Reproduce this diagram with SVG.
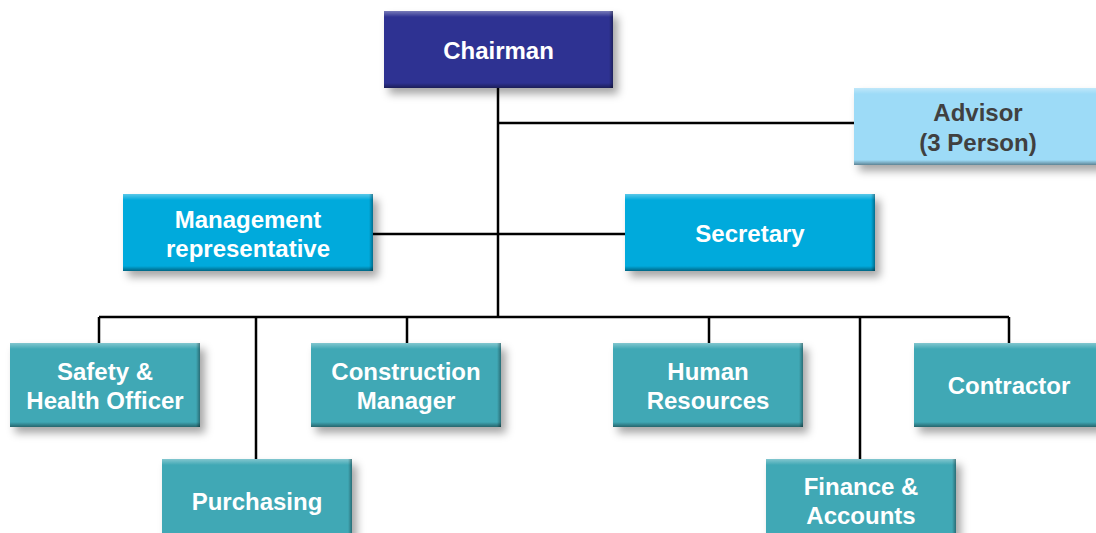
<svg xmlns="http://www.w3.org/2000/svg" width="1096" height="533" viewBox="0 0 1096 533">
<defs>
<filter id="sh" x="-10%" y="-20%" width="130%" height="160%">
<feDropShadow dx="5" dy="6" stdDeviation="4" flood-color="#000" flood-opacity="0.35"/>
</filter>
<linearGradient id="gTop" x1="0" y1="0" x2="0" y2="1">
<stop offset="0" stop-color="#fff" stop-opacity="0.35"/>
<stop offset="1" stop-color="#fff" stop-opacity="0"/>
</linearGradient>
<linearGradient id="gBot" x1="0" y1="0" x2="0" y2="1">
<stop offset="0" stop-color="#000" stop-opacity="0"/>
<stop offset="1" stop-color="#000" stop-opacity="0.4"/>
</linearGradient>
<linearGradient id="gRight" x1="0" y1="0" x2="1" y2="0">
<stop offset="0" stop-color="#000" stop-opacity="0"/>
<stop offset="1" stop-color="#000" stop-opacity="0.35"/>
</linearGradient>
</defs>
<style>
.box{filter:url(#sh);}
.navy{fill:#2E3192;}
.light{fill:#9DDBF7;}
.cyan{fill:#04AADC;}
.teal{fill:#3FA8B5;}
.t{font-family:"Liberation Sans",Arial,sans-serif;font-weight:bold;font-size:24px;text-anchor:middle;fill:#fff;}
.dk{fill:#404040;}
.con{stroke:#000;stroke-width:2.5;fill:none;}
</style>
<rect width="1096" height="533" fill="#fff"/>
<g id="connectors">
<path class="con" d="M498 88V317"/>
<path class="con" d="M498 123H854"/>
<path class="con" d="M373 234H625"/>
<path class="con" d="M99 317H1009"/>
<path class="con" d="M99 317V343M256 317V459M407 317V343M709 317V343M860 317V459M1009 317V343"/>
</g>
<g id="chairman">
<rect class="box navy" x="384" y="11" width="229" height="77"/>
<rect x="384" y="11" width="229" height="6" fill="url(#gTop)"/>
<rect x="384" y="83" width="229" height="5" fill="url(#gBot)"/>
<rect x="609" y="11" width="4" height="77" fill="url(#gRight)"/>
<text class="t" x="498.5" y="58.5">Chairman</text>
</g>
<g id="advisor">
<rect class="box light" x="854" y="88" width="250" height="77"/>
<rect x="854" y="88" width="250" height="6" fill="url(#gTop)"/>
<rect x="854" y="160" width="250" height="5" fill="url(#gBot)"/>
<text class="t dk" x="978" y="121">Advisor</text>
<text class="t dk" x="978" y="151">(3 Person)</text>
</g>
<g id="management">
<rect class="box cyan" x="123" y="194" width="250" height="77"/>
<rect x="123" y="194" width="250" height="6" fill="url(#gTop)"/>
<rect x="123" y="266" width="250" height="5" fill="url(#gBot)"/>
<rect x="369" y="194" width="4" height="77" fill="url(#gRight)"/>
<text class="t" x="248" y="228">Management</text>
<text class="t" x="248" y="257">representative</text>
</g>
<g id="secretary">
<rect class="box cyan" x="625" y="194" width="250" height="77"/>
<rect x="625" y="194" width="250" height="6" fill="url(#gTop)"/>
<rect x="625" y="266" width="250" height="5" fill="url(#gBot)"/>
<rect x="871" y="194" width="4" height="77" fill="url(#gRight)"/>
<text class="t" x="750" y="242">Secretary</text>
</g>
<g id="safety">
<rect class="box teal" x="10" y="343" width="190" height="84"/>
<rect x="10" y="343" width="190" height="6" fill="url(#gTop)"/>
<rect x="10" y="422" width="190" height="5" fill="url(#gBot)"/>
<rect x="196" y="343" width="4" height="84" fill="url(#gRight)"/>
<text class="t" x="105" y="380">Safety &amp;</text>
<text class="t" x="105" y="409">Health Officer</text>
</g>
<g id="purchasing">
<rect class="box teal" x="162" y="459" width="190" height="84"/>
<rect x="162" y="459" width="190" height="6" fill="url(#gTop)"/>
<rect x="348" y="459" width="4" height="84" fill="url(#gRight)"/>
<text class="t" x="257" y="510">Purchasing</text>
</g>
<g id="construction">
<rect class="box teal" x="311" y="343" width="190" height="84"/>
<rect x="311" y="343" width="190" height="6" fill="url(#gTop)"/>
<rect x="311" y="422" width="190" height="5" fill="url(#gBot)"/>
<rect x="497" y="343" width="4" height="84" fill="url(#gRight)"/>
<text class="t" x="406" y="380">Construction</text>
<text class="t" x="406" y="409">Manager</text>
</g>
<g id="human-resources">
<rect class="box teal" x="613" y="343" width="190" height="84"/>
<rect x="613" y="343" width="190" height="6" fill="url(#gTop)"/>
<rect x="613" y="422" width="190" height="5" fill="url(#gBot)"/>
<rect x="799" y="343" width="4" height="84" fill="url(#gRight)"/>
<text class="t" x="708" y="380">Human</text>
<text class="t" x="708" y="409">Resources</text>
</g>
<g id="finance">
<rect class="box teal" x="766" y="459" width="190" height="84"/>
<rect x="766" y="459" width="190" height="6" fill="url(#gTop)"/>
<rect x="952" y="459" width="4" height="84" fill="url(#gRight)"/>
<text class="t" x="861" y="495">Finance &amp;</text>
<text class="t" x="861" y="524">Accounts</text>
</g>
<g id="contractor">
<rect class="box teal" x="914" y="343" width="190" height="84"/>
<rect x="914" y="343" width="190" height="6" fill="url(#gTop)"/>
<rect x="914" y="422" width="190" height="5" fill="url(#gBot)"/>
<text class="t" x="1009" y="394">Contractor</text>
</g>
</svg>
